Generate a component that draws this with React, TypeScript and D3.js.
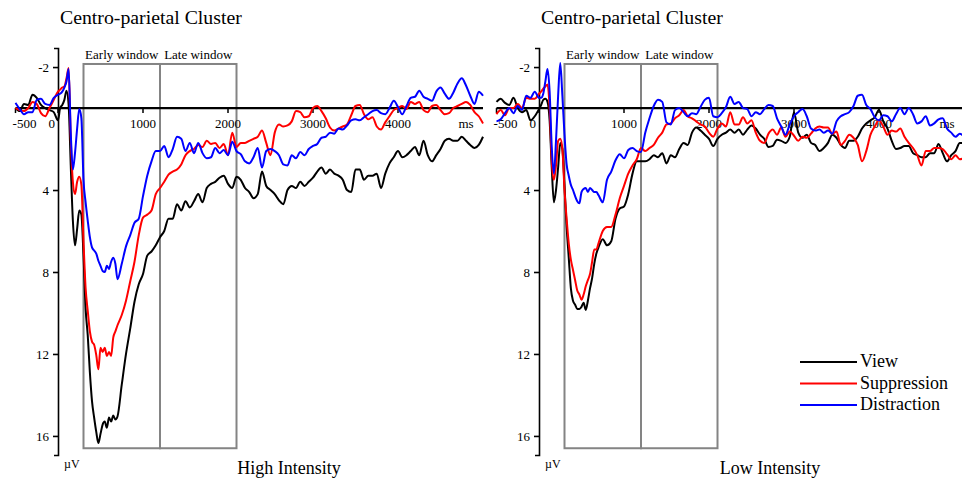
import React, { useEffect, useRef } from 'react';
import * as d3 from 'd3';

// sample times (ms): 50 ms steps, 25 ms steps through the fast early response
const times = [...d3.range(-500, 0, 50), ...d3.range(0, 700, 25), ...d3.range(700, 5001, 50)];

// High intensity, amplitude in µV (positive plotted downward)
const highView = [
  0, 0.15, -0.2, -0.15, -0.65, -0.5, -0.15, 0, 0.1, 0.2,
  0.6, 0, -0.15, -0.4, -0.85, -0.15, 2.8, 5.5, 6.7, 5.9, 5.0, 5.2, 7.2, 9.8, 11.1, 12.9, 14.3, 15.1, 15.8, 16.35, 15.9, 15.45, 15.3, 15.6, 15.1, 15.3, 15.0, 15.2,
  15.05, 13.5, 12.0, 10.75, 9.45, 8.6, 8.1, 7.2, 7.0, 6.7, 6.3, 6.0, 5.4, 5.4, 4.7, 5.0, 4.55, 4.85, 4.55, 4.2, 4.6, 3.9, 3.7, 3.6, 3.4, 3.3, 3.7, 3.9, 3.35, 3.5, 3.9,
  4.1, 4.4, 4.2, 3.1, 3.8, 4.0, 4.2, 4.5, 4.7, 4.0, 3.8, 3.9, 3.6, 3.8, 3.6, 3.4, 3.1, 2.9, 3.2, 3.0,
  3.2, 3.3, 3.5, 4.0, 4.1, 3.0, 3.0, 3.5, 3.3, 3.3, 3.2, 3.9, 3.2, 2.7, 2.4, 2.1, 2.4, 2.3, 2.1, 1.9,
  2.3, 1.6, 2.3, 2.6, 2.3, 2.0, 1.6, 1.5, 1.6, 1.6, 1.4, 1.6, 1.8, 1.95, 1.8, 1.4,
];
const highSuppression = [
  0, 0.1, 0.15, 0, -0.3, -0.2, 0.25, 0.4, 0, -0.4,
  -0.8, -0.9, -1.0, -1.05, -1.45, -1.95, 1.5, 3.6, 4.2, 3.6, 3.35, 3.75, 6.5, 8.8, 9.9, 10.9, 11.4, 11.55, 12.05, 12.75, 11.7, 11.9, 11.7, 12.1, 11.9, 12.1, 11.2, 10.9,
  10.6, 10.1, 9.4, 8.45, 7.5, 6.2, 5.35, 5.2, 5.0, 4.2, 3.9, 3.6, 3.25, 3.1, 3.0, 2.75, 2.3, 2.1, 2.0, 1.8, 1.9, 1.6, 1.75, 1.7, 1.95, 1.75, 2.3, 1.2, 1.9, 1.7, 1.7,
  1.6, 1.5, 1.4, 1.1, 1.7, 2.3, 1.2, 0.8, 0.9, 0.85, 0.65, 0.15, 0.2, 0.45, 0.4, 0.0, -0.1, 0.15, 0.5, 0.95,
  1.1, 1.0, 0.9, 0.8, 0.35, -0.1, -0.15, 0.3, 0.55, 0.45, 0.9, 1.05, 0.7, 0.4, 0.1, 0.0, -0.1, 0.05, -0.3, -0.2,
  -0.3, 0.1, 0.2, -0.1, -0.15, 0.1, 0.3, 0.25, 0.0, -0.1, -0.2, -0.3, -0.15, 0.2, 0.4, 0.75,
];
const highDistraction = [
  -0.25, 0.05, 0.3, 0.2, 0.2, -0.4, -0.45, -0.2, -0.15, -0.5,
  -0.65, -0.7, -0.8, -1.0, -1.3, -1.9, 1.2, 3.0, 2.2, 1.0, 0.05, 0.5, 3.5, 4.6, 5.5, 6.3, 6.8, 6.95, 7.1, 7.45, 7.7, 7.95, 8.0, 7.7, 7.85, 7.5, 7.3, 7.6,
  8.35, 7.6, 6.75, 6.2, 5.6, 5.4, 4.3, 3.3, 2.6, 2.1, 2.1, 1.85, 2.4, 2.0, 1.4, 1.5, 2.1, 1.7, 2.2, 1.7, 2.2, 2.45, 2.4, 1.95, 2.2, 2.05, 2.3, 1.65, 2.1, 2.25, 2.6,
  2.7, 2.4, 1.95, 2.9, 2.1, 2.0, 2.1, 2.3, 2.75, 2.8, 2.3, 2.45, 2.15, 2.3, 2.0, 1.85, 1.75, 1.45, 1.4, 1.2,
  1.25, 1.0, 1.05, 0.85, 0.6, 0.55, 0.6, 0.45, 0.3, 0.15, 0.1, 0.25, 0.3, 0.0, -0.35, -0.05, 0.3, -0.1, -0.5, -0.55,
  -0.85, -0.55, -0.45, -0.35, -0.8, -1.0, -0.7, -0.45, -0.75, -1.2, -1.45, -1.1, -0.6, -0.2, -0.8, -0.6,
];

// Low intensity
const lowView = [
  -0.3, -0.45, -0.25, -0.15, -0.5, 0.0, 0.2, 0.1, 0.6, 0.4,
  0.05, -0.15, -0.4, -0.45, -0.3, 0.6, 2.9, 4.6, 4.0, 2.9, 1.7, 2.0, 3.8, 5.8, 7.3, 8.8, 9.4, 9.6, 9.8, 9.8, 9.7, 9.5, 9.85, 9.4, 8.8, 8.3, 7.6, 7.1,
  6.8, 6.4, 6.7, 6.5, 5.4, 4.9, 4.8, 4.2, 3.2, 2.6, 2.6, 2.6, 2.5, 2.3, 2.4, 2.2, 2.7, 2.3, 2.4, 2.0, 1.7, 1.8, 1.2, 0.95, 1.1, 1.3, 1.5, 1.85, 1.5, 1.3, 1.2,
  1.05, 1.2, 1.05, 1.3, 1.05, 0.85, 1.0, 1.3, 1.5, 1.9, 1.85, 1.55, 1.6, 1.7, 1.4, 0.2, 1.2, 1.45, 1.3, 1.7,
  1.8, 2.1, 1.95, 1.7, 1.3, 1.45, 1.8, 1.95, 1.6, 1.6, 1.4, 1.0, 0.75, 0.6, 0.45, 0.1, 0.65, 1.0, 1.6, 2.0,
  1.95, 1.85, 1.85, 2.2, 2.3, 2.4, 2.4, 2.2, 2.2, 1.75, 2.2, 2.6, 2.3, 2.1, 1.7, 1.7,
];
const lowSuppression = [
  0.3, 0.1, 0.35, 0.0, 0.0, -0.2, 0.0, -0.5, -0.45, -0.45,
  -0.7, -0.8, -0.95, -1.05, -1.15, 0.0, 2.6, 3.5, 2.8, 1.6, 1.5, 2.0, 4.0, 5.4, 6.6, 7.4, 7.9, 8.4, 8.9, 9.1, 9.35, 9.1, 8.7, 8.4, 8.1, 7.5, 6.9, 6.9,
  6.6, 6.0, 5.8, 5.8, 5.2, 4.4, 3.8, 3.2, 2.8, 2.5, 1.95, 2.1, 1.95, 1.8, 1.45, 1.2, 0.8, 0.75, 0.5, 0.35, 0.1, 0.4, 0.5, 0.65, 0.8, 0.9, 1.2, 1.4, 1.0, 0.75, 0.9,
  0.2, 0.8, 0.8, 0.45, 0.75, 0.6, 1.2, 1.6, 1.7, 1.25, 1.05, 1.3, 0.95, 1.4, 1.15, 1.35, 1.6, 1.4, 1.45, 1.25,
  1.0, 0.9, 0.95, 0.95, 1.25, 1.15, 1.8, 1.6, 1.3, 1.45, 1.8, 2.6, 2.1, 1.3, 0.9, 0.6, 0.9, 1.3, 1.1, 1.15,
  1.0, 1.4, 1.7, 1.95, 2.3, 2.8, 2.1, 2.1, 1.95, 1.95, 2.0, 2.25, 2.5, 2.3, 2.5, 2.45,
];
const lowDistraction = [
  0.65, 0.55, 0.25, 0.0, 0.25, -0.1, 0.1, -0.6, -0.5, -0.8,
  -0.5, -0.5, -0.7, -1.3, -1.9, -0.8, 1.9, 3.2, 1.6, -0.6, -2.2, -0.6, 1.3, 2.75, 3.3, 3.75, 4.0, 4.3, 4.55, 4.65, 4.1, 3.95, 3.9, 4.1, 3.9, 4.0, 4.1, 4.1,
  4.25, 4.6, 3.5, 3.1, 2.55, 2.25, 2.45, 2.05, 1.95, 2.1, 2.15, 1.2, 0.5, -0.1, -0.4, -0.3, 0.7, 0.8, 0.1, 0.0, 0.2, 0.4, 0.25, 0.3, -0.05, -0.4, -0.5, 0.4, 0.45, 0.25, -0.05,
  -0.55, -0.2, -0.3, 0.0, 0.05, 0.4, 0.2, 0.3, 0.05, -0.15, -0.1, 0.5, 0.9, 1.3, 0.8, 0.4, 0.2, 0.05, 0.4, 1.0,
  1.1, 1.05, 1.2, 1.1, 1.25, 0.65, 0.4, 0.3, 0.2, -0.1, -0.6, -0.65, -0.15, 0.05, 0.45, 0.6, 0.35, 0.4, 0.65, 0.3,
  0.0, 0.3, 0.0, 0.3, 0.75, 0.65, 0.4, 0.85, 0.75, 0.55, 0.5, 1.0, 1.2, 1.4, 1.25, 1.4,
];

const xTicks = [-500, 0, 1000, 2000, 3000, 4000];
const yTicks = [-2, 4, 8, 12, 16];
const windows = [
  { label: 'Early window', start: 300, end: 1200 },
  { label: 'Late window', start: 1200, end: 2100 },
];
const seriesNames = ['View', 'Suppression', 'Distraction'];
const seriesColors = ['#000000', '#ff0000', '#0000ff'];

const FONT = '"Liberation Serif", "Times New Roman", serif';

function App() {
  const ref = useRef<SVGSVGElement>(null);

  useEffect(() => {
    const svg = d3.select(ref.current);
    svg.selectAll('*').remove();

    const y = d3.scaleLinear().domain([-2.93, 16.93]).range([48, 455]);

    const drawPanel = (axisX: number, series: number[][], subtitle: string) => {
      const x = d3.scaleLinear().domain([-500, 5000]).range([axisX - 42.5, axisX + 425]);
      const g = svg.append('g');

      g.append('text')
        .attr('x', axisX + 2)
        .attr('y', 24)
        .attr('font-family', FONT)
        .attr('font-size', 19.8)
        .text('Centro-parietal Cluster');

      // analysis windows
      windows.forEach(w => {
        g.append('rect')
          .attr('x', x(w.start))
          .attr('y', y(-2.15))
          .attr('width', x(w.end) - x(w.start))
          .attr('height', y(16.6) - y(-2.15))
          .attr('fill', 'none')
          .attr('stroke', '#848484')
          .attr('stroke-width', 2);
        g.append('text')
          .attr('x', (x(w.start) + x(w.end)) / 2)
          .attr('y', y(-2.15) - 5)
          .attr('text-anchor', 'middle')
          .attr('font-family', FONT)
          .attr('font-size', 13)
          .text(w.label);
      });

      // y axis
      const yAxis = g.append('g')
        .attr('transform', `translate(${axisX},0)`)
        .call(d3.axisLeft(y).tickValues(yTicks).tickSize(5).tickSizeOuter(4).tickPadding(4).tickFormat(d => String(d)));
      yAxis.selectAll('path, line').attr('stroke-width', 1.6);
      yAxis.selectAll('text').attr('font-family', FONT).attr('font-size', 13);

      // x axis along zero
      g.append('line')
        .attr('x1', x(-500)).attr('x2', x(5000))
        .attr('y1', y(0)).attr('y2', y(0))
        .attr('stroke', '#000').attr('stroke-width', 2.2);
      g.selectAll('.xtick')
        .data(xTicks)
        .enter()
        .append('line')
        .attr('x1', d => x(d)).attr('x2', d => x(d))
        .attr('y1', y(0)).attr('y2', y(0) + 5)
        .attr('stroke', '#000').attr('stroke-width', 1.5);
      g.selectAll('.xlabel')
        .data(xTicks)
        .enter()
        .append('text')
        .attr('x', d => (d === -500 ? x(d) + 9 : d === 0 ? x(d) - 3 : x(d)))
        .attr('y', 128)
        .attr('text-anchor', d => (d === 0 ? 'end' : 'middle'))
        .attr('font-family', FONT)
        .attr('font-size', 13)
        .text(d => String(d));
      g.append('text')
        .attr('x', x(4800)).attr('y', 128)
        .attr('text-anchor', 'middle')
        .attr('font-family', FONT).attr('font-size', 13)
        .text('ms');

      g.append('text')
        .attr('x', axisX + 6).attr('y', 468)
        .attr('font-family', FONT).attr('font-size', 12)
        .text('µV');
      g.append('text')
        .attr('x', axisX + 231).attr('y', 474)
        .attr('text-anchor', 'middle')
        .attr('font-family', FONT).attr('font-size', 18)
        .text(subtitle);

      const line = d3.line<number>()
        .x((_, i) => x(times[i]))
        .y(d => y(d))
        .curve(d3.curveMonotoneX);

      series.forEach((s, i) => {
        g.append('path')
          .datum(s)
          .attr('d', line)
          .attr('fill', 'none')
          .attr('stroke', seriesColors[i])
          .attr('stroke-width', 2)
          .attr('stroke-linejoin', 'round');
      });
    };

    drawPanel(58, [highView, highSuppression, highDistraction], 'High Intensity');
    drawPanel(539, [lowView, lowSuppression, lowDistraction], 'Low Intensity');

    // legend
    const legend = svg.append('g').attr('transform', 'translate(800,362)');
    seriesNames.forEach((name, i) => {
      legend.append('line')
        .attr('x1', 0).attr('x2', 57)
        .attr('y1', i * 21.5).attr('y2', i * 21.5)
        .attr('stroke', seriesColors[i]).attr('stroke-width', 2);
      legend.append('text')
        .attr('x', 60).attr('y', i * 21.5 + 5)
        .attr('font-family', FONT).attr('font-size', 18)
        .text(name);
    });
  }, []);

  return (
    <svg
      ref={ref}
      width={962}
      height={479}
      style={{ position: 'absolute', left: 0, top: 0, display: 'block', background: '#fff' }}
    />
  );
}

export default App;
